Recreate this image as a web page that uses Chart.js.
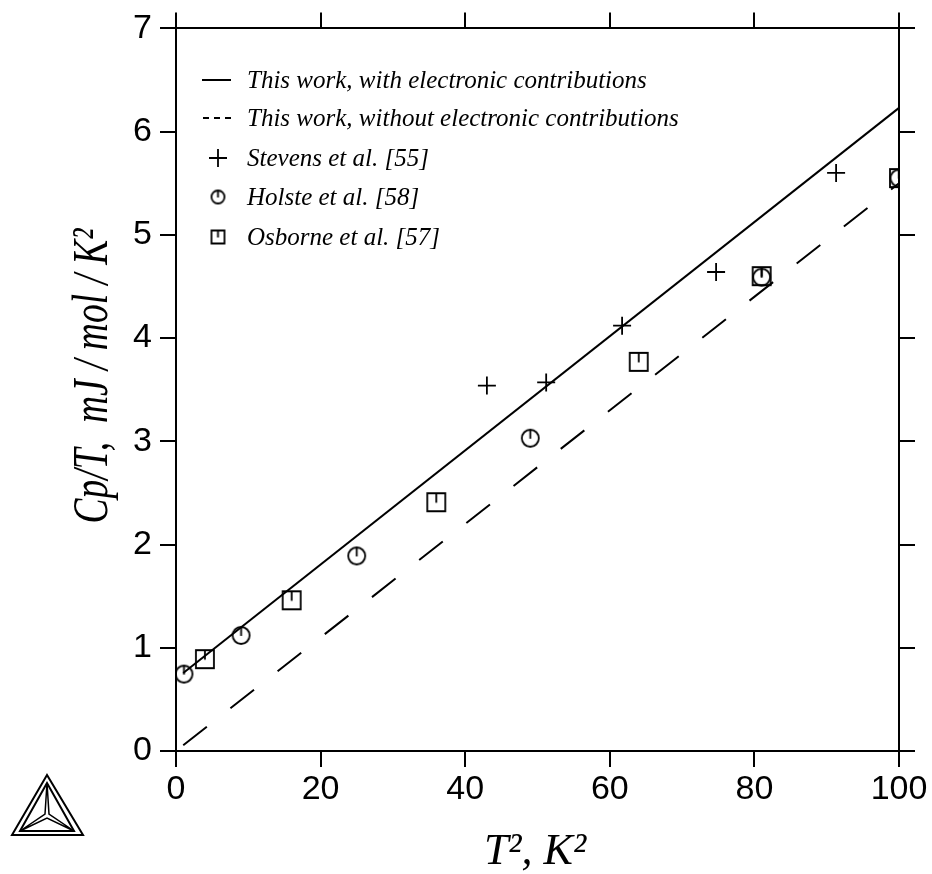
<!DOCTYPE html>
<html>
<head>
    <style>
        body {
            margin: 0;
            background: #fff;
            overflow: hidden;
        }

        #wrap {
            width: 932px;
            height: 874px;
        }
    </style>
    <script src="https://cdn.jsdelivr.net/npm/chart.js"></script>
</head>
<body>
    <div id="wrap"><canvas id="cpChart"></canvas></div>

    <script>
        // model lines, T^2 in K^2
        const fitX = [1, 100];
        const withElectronic = [0.755, 6.23];
        const withoutElectronic = [0.055, 5.50];

        // Stevens et al. [55]
        const stevensX = [43.0, 51.2, 61.7, 74.7, 91.3];
        const stevensY = [3.54, 3.57, 4.12, 4.64, 5.60];

        // Holste et al. [58]
        const holsteX = [1.1, 9, 25, 49, 81, 100];
        const holsteY = [0.745, 1.12, 1.89, 3.03, 4.59, 5.55];

        // Osborne et al. [57]
        const osborneX = [4, 16, 36, 64, 81, 100];
        const osborneY = [0.89, 1.46, 2.41, 3.77, 4.60, 5.55];

        const xTicks = [0, 20, 40, 60, 80, 100];
        const yTicks = [0, 1, 2, 3, 4, 5, 6, 7];

        const legendLabels = [
            'This work, with electronic contributions',
            'This work, without electronic contributions',
            'Stevens et al. [55]',
            'Holste et al. [58]',
            'Osborne et al. [57]'
        ];

        const pts = (xs, ys) => xs.map((x, i) => ({ x: x, y: ys[i] }));

        // circle / square with a short vertical stroke from the top to the centre
        function marker(kind, size) {
            const c = document.createElement('canvas');
            c.width = size + 4;
            c.height = size + 4;
            const g = c.getContext('2d');
            const m = c.width / 2, r = size / 2;
            g.strokeStyle = '#000';
            g.lineWidth = 1.8;
            g.beginPath();
            if (kind === 'circle') {
                g.arc(m, m, r, 0, Math.PI * 2);
            } else {
                g.rect(m - r, m - r, size, size);
            }
            g.moveTo(m, m - r);
            g.lineTo(m, m + 0.5);
            g.stroke();
            return c;
        }
        const circleMark = marker('circle', 17);
        const squareMark = marker('square', 18);

        const fontSans = '"Liberation Sans", Arial, sans-serif';
        const fontSerif = '"Liberation Serif", "Times New Roman", serif';

        // legend, axis titles and logo drawn straight onto the canvas
        const decorations = {
            id: 'decorations',
            afterDraw(chart) {
                const ctx = chart.ctx;
                ctx.save();
                ctx.fillStyle = '#000';
                ctx.strokeStyle = '#000';

                // legend
                const rows = [80, 118, 158, 197, 237];
                const sx = 218, tx = 247;
                ctx.font = 'italic 25px ' + fontSerif;
                ctx.textBaseline = 'middle';
                ctx.textAlign = 'left';
                legendLabels.forEach((t, i) => ctx.fillText(t, tx, rows[i] + 1));

                ctx.lineWidth = 2;
                ctx.beginPath();
                ctx.moveTo(202, rows[0]);
                ctx.lineTo(231, rows[0]);
                ctx.stroke();

                ctx.beginPath();
                [203, 214, 225].forEach(d => {
                    ctx.moveTo(d, rows[1]);
                    ctx.lineTo(d + 6, rows[1]);
                });
                ctx.stroke();

                ctx.lineWidth = 1.8;
                ctx.beginPath();
                ctx.moveTo(sx - 9, rows[2]);
                ctx.lineTo(sx + 9, rows[2]);
                ctx.moveTo(sx, rows[2] - 9);
                ctx.lineTo(sx, rows[2] + 9);
                ctx.stroke();
                ctx.drawImage(marker('circle', 13), sx - 8.5, rows[3] - 8.5);
                ctx.drawImage(marker('square', 13), sx - 8.5, rows[4] - 8.5);

                // axis titles
                ctx.textAlign = 'center';
                ctx.textBaseline = 'alphabetic';
                ctx.font = 'italic 44px ' + fontSerif;
                ctx.fillText('T\u00B2, K\u00B2', 535, 864);

                // y title: tall, narrow lettering
                ctx.save();
                ctx.translate(107, 376);
                ctx.rotate(-Math.PI / 2);
                ctx.scale(0.75, 1);
                ctx.font = 'italic 50px ' + fontSerif;
                ctx.fillText('Cp/T,  mJ / mol / K\u00B2', 0, 0);
                ctx.restore();

                // triangle logo, bottom left
                ctx.lineWidth = 2;
                ctx.beginPath();
                ctx.moveTo(47, 775); ctx.lineTo(12, 835); ctx.lineTo(83, 835); ctx.closePath();
                ctx.moveTo(47, 783); ctx.lineTo(20, 831); ctx.lineTo(74, 831); ctx.closePath();
                ctx.stroke();
                ctx.lineWidth = 1.5;
                ctx.beginPath();
                ctx.moveTo(47, 783); ctx.lineTo(45, 814); ctx.lineTo(20, 831);
                ctx.moveTo(47, 783); ctx.lineTo(49, 814); ctx.lineTo(74, 831);
                ctx.moveTo(20, 831); ctx.lineTo(47, 818); ctx.lineTo(74, 831);
                ctx.stroke();
                ctx.restore();
            }
        };

        const axisCommon = {
            type: 'linear',
            border: { color: '#000', width: 2 },
            grid: { drawOnChartArea: false, tickLength: 16, color: '#000', lineWidth: 2 }
        };

        new Chart(document.getElementById('cpChart'), {
            type: 'scatter',
            data: {
                datasets: [
                    {
                        type: 'line',
                        data: pts(fitX, withElectronic),
                        borderColor: '#000',
                        borderWidth: 2,
                        pointRadius: 0,
                        fill: false
                    },
                    {
                        type: 'line',
                        data: pts(fitX, withoutElectronic),
                        borderColor: '#000',
                        borderWidth: 2,
                        borderDash: [30, 30],
                        pointRadius: 0,
                        fill: false
                    },
                    {
                        data: pts(stevensX, stevensY),
                        pointStyle: 'cross',
                        pointRadius: 9,
                        borderColor: '#000',
                        borderWidth: 1.8
                    },
                    {
                        data: pts(osborneX, osborneY),
                        pointStyle: squareMark,
                        pointRadius: 10
                    },
                    {
                        data: pts(holsteX, holsteY),
                        pointStyle: circleMark,
                        pointRadius: 10
                    }
                ]
            },
            options: {
                responsive: true,
                maintainAspectRatio: false,
                animation: false,
                clip: 0,
                layout: { padding: 0 },
                plugins: {
                    legend: { display: false },
                    tooltip: { enabled: false }
                },
                scales: {
                    x: Object.assign({}, axisCommon, {
                        position: 'bottom',
                        min: 0,
                        max: 100,
                        afterBuildTicks: s => { s.ticks = xTicks.map(v => ({ value: v })); },
                        ticks: { color: '#000', font: { family: fontSans, size: 34 }, padding: 2, maxRotation: 0 },
                        afterFit: s => { s.height = 123; }
                    }),
                    x2: Object.assign({}, axisCommon, {
                        position: 'top',
                        min: 0,
                        max: 100,
                        afterBuildTicks: s => { s.ticks = xTicks.map(v => ({ value: v })); },
                        ticks: { display: false },
                        afterFit: s => { s.height = 28; }
                    }),
                    y: Object.assign({}, axisCommon, {
                        position: 'left',
                        min: 0,
                        max: 7,
                        afterBuildTicks: s => { s.ticks = yTicks.map(v => ({ value: v })); },
                        ticks: { color: '#000', font: { family: fontSans, size: 34 }, padding: 8 },
                        afterFit: s => { s.width = 176; }
                    }),
                    y2: Object.assign({}, axisCommon, {
                        position: 'right',
                        min: 0,
                        max: 7,
                        afterBuildTicks: s => { s.ticks = yTicks.map(v => ({ value: v })); },
                        ticks: { display: false },
                        afterFit: s => { s.width = 33; }
                    })
                }
            },
            plugins: [decorations]
        });
    </script>
</body>
</html>
